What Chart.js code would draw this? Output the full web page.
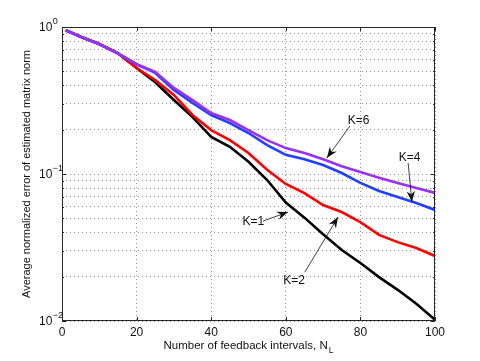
<!DOCTYPE html>
<html>
<head>
<meta charset="utf-8">
<script src="https://cdn.jsdelivr.net/npm/chart.js@4/dist/chart.umd.min.js"></script>
<style>
html,body{margin:0;padding:0;background:#fff;}
#wrap{width:480px;height:361px;}
</style>
</head>
<body>
<div id="wrap"><canvas id="c" width="480" height="361"></canvas></div>
<script>
// ---- data ----
const feedbackIntervals = [1, 5, 10, 15, 20, 25, 30, 35, 40, 45, 50, 55, 60, 65, 70, 75, 80, 85, 90, 95, 100];
const errK1 = [0.950, 0.859, 0.766, 0.662, 0.526, 0.421, 0.319, 0.244, 0.179, 0.153, 0.121, 0.091, 0.064, 0.0505, 0.0389, 0.0304, 0.0248, 0.0199, 0.0163, 0.0131, 0.0102];
const errK2 = [0.950, 0.859, 0.766, 0.662, 0.526, 0.436, 0.345, 0.252, 0.199, 0.170, 0.139, 0.107, 0.0856, 0.0742, 0.0615, 0.0551, 0.0471, 0.0385, 0.0344, 0.0314, 0.0277];
const errK4 = [0.950, 0.859, 0.766, 0.662, 0.558, 0.487, 0.373, 0.304, 0.252, 0.222, 0.190, 0.157, 0.135, 0.126, 0.115, 0.1016, 0.0870, 0.0766, 0.0698, 0.0635, 0.0569];
const errK6 = [0.950, 0.859, 0.766, 0.662, 0.558, 0.496, 0.385, 0.318, 0.260, 0.233, 0.199, 0.170, 0.150, 0.139, 0.126, 0.113, 0.103, 0.0942, 0.0870, 0.0804, 0.0743];
const seriesLabels = ['K=1', 'K=2', 'K=4', 'K=6'];
const xTickValues = [0, 20, 40, 60, 80, 100];
const yDecadeExponents = [0, -1, -2];
const xAxisTitle = 'Number of feedback intervals, N';
const xAxisTitleSub = 'L';
const yAxisTitle = 'Average normalized error of estimated matrix norm';
// annotation: label, label position, arrow start, arrow tip (data coordinates)
const annotations = [
  { text: 'K=6', at: [79.5, 0.2295], from: [77.2, 0.212], tip: [71.0, 0.1285] },
  { text: 'K=4', at: [93.2, 0.1295], from: [92.8, 0.1188], tip: [93.8, 0.0645] },
  { text: 'K=1', at: [51.3, 0.0472], from: [53.9, 0.0479], tip: [60.6, 0.0551] },
  { text: 'K=2', at: [62.2, 0.0187], from: [65.1, 0.0215], tip: [74.0, 0.0510] }
];

// grid values for the log axis (1..9 x each decade)
const yGridValues = [];
for (let e = -2; e < 0; e++) {
  for (let m = 1; m <= 9; m++) yGridValues.push(parseFloat((m * Math.pow(10, e)).toPrecision(3)));
}
yGridValues.push(1);

const FONT = "'Liberation Sans', Arial, Helvetica, sans-serif";
const seriesColors = ['#000000', '#ff0000', '#2040ff', '#9a30f5'];
const seriesData = [errK1, errK2, errK4, errK6];

const datasets = seriesData.map((arr, i) => ({
  label: seriesLabels[i],
  data: feedbackIntervals.map((n, j) => ({ x: n, y: arr[j] })),
  borderColor: seriesColors[i],
  backgroundColor: seriesColors[i],
  borderWidth: 2.6,
  pointRadius: 0,
  tension: 0,
  fill: false,
  order: 3 - i
}));

const overlay = {
  id: 'overlay',
  afterDatasetsDraw(chart) {
    const ctx = chart.ctx;
    const xs = chart.scales.x, ys = chart.scales.y;
    ctx.save();
    ctx.fillStyle = '#111';
    ctx.strokeStyle = '#111';
    ctx.lineWidth = 0.8;
    ctx.font = '12px ' + FONT;
    ctx.textAlign = 'center';
    ctx.textBaseline = 'middle';
    annotations.forEach(a => {
      const tx = xs.getPixelForValue(a.at[0]), ty = ys.getPixelForValue(a.at[1]);
      const fx = xs.getPixelForValue(a.from[0]), fy = ys.getPixelForValue(a.from[1]);
      const px = xs.getPixelForValue(a.tip[0]), py = ys.getPixelForValue(a.tip[1]);
      ctx.fillText(a.text, tx, ty);
      ctx.beginPath(); ctx.moveTo(fx, fy); ctx.lineTo(px, py); ctx.stroke();
      const ang = Math.atan2(py - fy, px - fx);
      ctx.save();
      ctx.translate(px, py); ctx.rotate(ang);
      ctx.beginPath();
      ctx.moveTo(0, 0); ctx.lineTo(-11, -4.2); ctx.lineTo(-7.5, 0); ctx.lineTo(-11, 4.2);
      ctx.closePath(); ctx.fill();
      ctx.restore();
    });
    ctx.restore();
  },
  afterDraw(chart) {
    const ctx = chart.ctx;
    const a = chart.chartArea;
    const xs = chart.scales.x, ys = chart.scales.y;
    ctx.save();
    ctx.strokeStyle = '#262626';
    ctx.lineWidth = 1;
    ctx.strokeRect(Math.round(a.left) + 0.5, Math.round(a.top) + 0.5, Math.round(a.right - a.left) - 1, Math.round(a.bottom - a.top) - 1);
    ctx.beginPath();
    xTickValues.forEach(v => {
      const x = Math.round(xs.getPixelForValue(v)) + 0.5;
      ctx.moveTo(x, a.bottom); ctx.lineTo(x, a.bottom - 4);
      ctx.moveTo(x, a.top); ctx.lineTo(x, a.top + 4);
    });
    yGridValues.forEach(v => {
      const y = Math.round(ys.getPixelForValue(v)) + 0.5;
      const major = Math.abs(Math.log10(v) - Math.round(Math.log10(v))) < 1e-9;
      const len = major ? 4 : 2;
      ctx.moveTo(a.left, y); ctx.lineTo(a.left + len, y);
      ctx.moveTo(a.right, y); ctx.lineTo(a.right - len, y);
    });
    ctx.stroke();
    ctx.fillStyle = '#111';
    ctx.textBaseline = 'middle';
    ctx.textAlign = 'left';
    yDecadeExponents.forEach(e => {
      const y = ys.getPixelForValue(Math.pow(10, e));
      ctx.font = '12px ' + FONT;
      const bx = 39;
      ctx.fillText('10', bx, y + 1);
      const w = ctx.measureText('10').width;
      ctx.font = '9px ' + FONT;
      ctx.fillText(e === 0 ? '0' : '\u2212' + Math.abs(e), bx + w + 0.5, y - 5);
    });
    ctx.font = '11.5px ' + FONT;
    const w1 = ctx.measureText(xAxisTitle).width;
    ctx.font = '8.5px ' + FONT;
    const w2 = ctx.measureText(xAxisTitleSub).width;
    const cx = (a.left + a.right) / 2;
    const sx = cx - (w1 + w2 + 1) / 2;
    ctx.font = '11.5px ' + FONT;
    ctx.fillText(xAxisTitle, sx, 346);
    ctx.font = '8.5px ' + FONT;
    ctx.fillText(xAxisTitleSub, sx + w1 + 1, 351);
    ctx.restore();
  }
};

new Chart(document.getElementById('c'), {
  type: 'line',
  data: { datasets },
  plugins: [overlay],
  options: {
    responsive: false,
    animation: false,
    events: [],
    layout: { padding: { left: 0, right: 45, top: 27, bottom: 0 } },
    plugins: { legend: { display: false }, tooltip: { enabled: false }, title: { display: false } },
    scales: {
      x: {
        type: 'linear',
        min: 0, max: 100,
        afterBuildTicks: s => { s.ticks = xTickValues.map(v => ({ value: v })); },
        afterFit: s => { s.height = 40; },
        ticks: { color: '#111', font: { family: FONT, size: 12 }, padding: 4, maxRotation: 0 },
        grid: { color: 'rgba(0,0,0,0.42)', lineWidth: 1, drawTicks: false },
        border: { display: false, dash: [1, 3] }
      },
      y: {
        type: 'logarithmic',
        min: 0.01, max: 1,
        afterBuildTicks: s => { s.ticks = yGridValues.map(v => ({ value: v })); },
        afterFit: s => { s.width = 62; },
        ticks: { display: false },
        grid: { color: 'rgba(0,0,0,0.42)', lineWidth: 1, drawTicks: false },
        border: { display: false, dash: [1, 3] },
        title: { display: true, text: yAxisTitle, color: '#111', font: { family: FONT, size: 11 }, padding: { top: 20.4, bottom: 0 } }
      }
    }
  }
});
</script>
</body>
</html>
